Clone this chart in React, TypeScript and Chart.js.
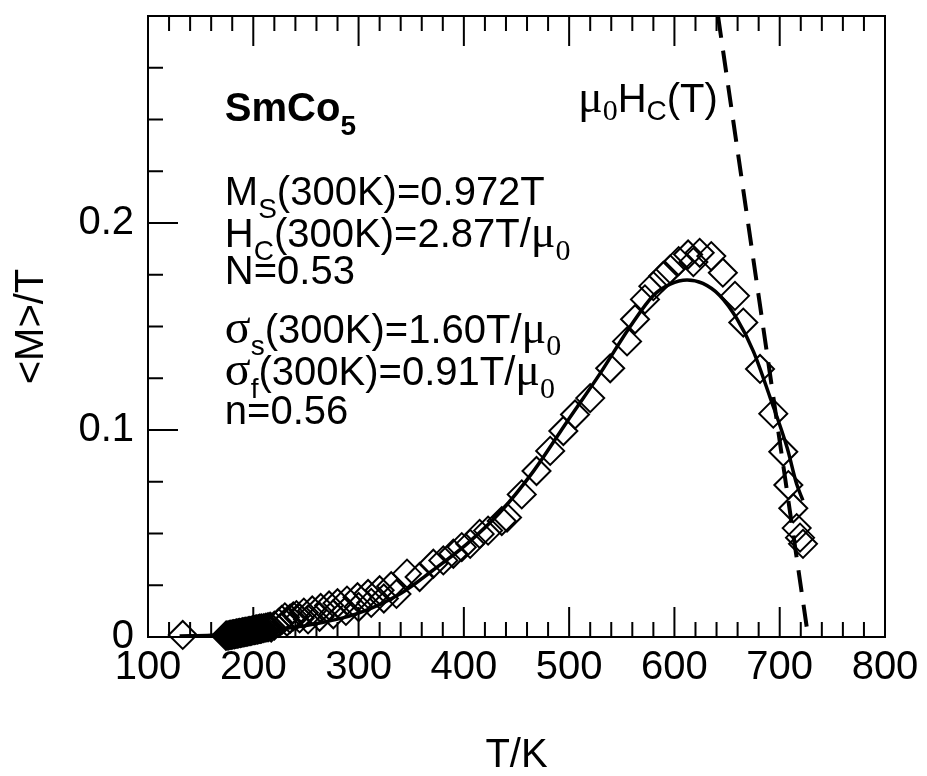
import React, { useEffect, useRef } from 'react';
import { Chart, registerables } from 'chart.js';

Chart.register(...registerables);

// ---- data ----
// measured <M>/T points (diamonds)
const measT = [
  133,
  174, 175, 176, 177, 178, 179, 180, 181, 182, 183, 184, 185, 186, 187, 188, 189, 190, 191, 192, 193,
  194, 195, 196, 197, 198, 199, 200, 201, 202, 203, 204, 205, 206, 207, 208, 210, 212, 214, 216,
  217, 220, 224, 227, 230, 232, 235, 238, 241, 244,
  248, 256, 264, 272, 280, 289, 299, 309, 320, 331,
  252, 263, 276, 288, 300, 312, 324, 336,
  346, 358, 371, 380.5, 390, 398, 406, 415, 423, 436, 441, 455, 469, 482, 494.5, 505.6, 520, 539, 555,
  562.6, 572, 580, 589.4, 596, 604, 613, 618, 624, 635, 646, 657.5, 665.4, 681.3, 693.9, 703.4, 708.2,
  712.9, 716.1, 719.3, 722.1,
];
const measV = [
  0.001,
  0.0006, 0.0008, 0.0007, 0.0009, 0.0011, 0.001, 0.0012, 0.0014, 0.0013, 0.0015, 0.0017, 0.0016, 0.0018,
  0.002, 0.0019, 0.0021, 0.0023, 0.0022, 0.0024, 0.0026,
  0.0025, 0.0027, 0.0029, 0.0028, 0.003, 0.0032, 0.0034, 0.0033, 0.0035, 0.0037, 0.0036, 0.0038, 0.004,
  0.0039, 0.0041, 0.0043, 0.0045, 0.0047, 0.005,
  0.0045, 0.0055, 0.0068, 0.0082, 0.0095, 0.0075, 0.0088, 0.01, 0.0106, 0.009,
  0.0118, 0.0128, 0.014, 0.0152, 0.0163, 0.0176, 0.0192, 0.0208, 0.0226, 0.0245,
  0.0085, 0.0098, 0.011, 0.0126, 0.0145, 0.0165, 0.0186, 0.0208,
  0.0306, 0.029, 0.0354, 0.037, 0.0402, 0.0434, 0.045, 0.0498, 0.0514, 0.056, 0.0577, 0.0689, 0.0802,
  0.0899, 0.0995, 0.1075, 0.1154, 0.1298, 0.1428,
  0.1535, 0.1631, 0.1695, 0.1744, 0.1776, 0.1816, 0.1848, 0.1811, 0.1856, 0.184, 0.176, 0.1648, 0.1519,
  0.1295, 0.1079, 0.0895, 0.0734, 0.0622, 0.0526, 0.048, 0.045,
];

// model fit (solid line)
const fitT = [130, 160, 200, 250, 300, 340, 370, 403, 434, 466, 498, 529, 558, 580, 596, 612, 627, 643, 659, 675, 691, 707, 716, 722];
const fitV = [0.0005, 0.0008, 0.0025, 0.0055, 0.0115, 0.021, 0.032, 0.045, 0.06, 0.08, 0.104, 0.127, 0.15, 0.165, 0.1705, 0.1725, 0.1708, 0.165, 0.154, 0.138, 0.1155, 0.0915, 0.074, 0.066];

// mu0 Hc(T) (dashed line)
const hcT = [641.4, 725.6];
const hcV = [0.3, 0.005];

// axes
const xMajorTicks = [200, 300, 400, 500, 600, 700];
const xMinorTicks = [120, 140, 160, 180, 220, 240, 260, 280, 320, 340, 360, 380, 420, 440, 460, 480, 520, 540, 560, 580, 620, 640, 660, 680, 720, 740, 760, 780];
const yMajorTicks = [0.1, 0.2];
const yMinorTicks = [0.025, 0.05, 0.075, 0.125, 0.15, 0.175, 0.225, 0.25, 0.275];
const yTickLabels: Record<string, string> = { '0': '0', '0.1': '0.1', '0.2': '0.2' };

const SANS = '"Liberation Sans", Arial, Helvetica, sans-serif';
const SERIF = '"Liberation Serif", "Times New Roman", serif';

type Seg = { t: string; sub?: boolean; serif?: boolean; bold?: boolean; size?: number };

const MU: Seg = { t: 'μ', serif: true, size: 46 };
const MU0: Seg = { t: '0', sub: true, serif: true, size: 30 };
const SIGMA: Seg = { t: 'σ', serif: true, size: 48 };

// annotation text blocks, anchored in data coordinates
const annotations: { T: number; v: number; subDy: number; segs: Seg[] }[] = [
  { T: 173, v: 0.2495, subDy: 14, segs: [{ t: 'SmCo', bold: true }, { t: '5', sub: true, bold: true }] },
  { T: 173, v: 0.2087, subDy: 13, segs: [{ t: 'M' }, { t: 'S', sub: true }, { t: '(300K)=0.972T' }] },
  { T: 173, v: 0.1885, subDy: 13, segs: [{ t: 'H' }, { t: 'C', sub: true }, { t: '(300K)=2.87T/' }, MU, MU0] },
  { T: 173, v: 0.1707, subDy: 13, segs: [{ t: 'N=0.53' }] },
  { T: 173, v: 0.1418, subDy: 12, segs: [SIGMA, { t: 's', sub: true }, { t: '(300K)=1.60T/' }, MU, MU0] },
  { T: 173, v: 0.1218, subDy: 13, segs: [SIGMA, { t: 'f', sub: true }, { t: '(300K)=0.91T/' }, MU, MU0] },
  { T: 173, v: 0.1029, subDy: 13, segs: [{ t: 'n=0.56' }] },
  { T: 508.4, v: 0.2534, subDy: 8, segs: [MU, MU0, { t: 'H' }, { t: 'C', sub: true }, { t: '(T)' }] },
];

function drawRich(ctx: CanvasRenderingContext2D, x: number, y: number, segs: Seg[], subDy: number) {
  let cx = x;
  for (const s of segs) {
    const size = s.size ?? (s.sub ? 28 : 40);
    const fam = s.serif ? SERIF : SANS;
    ctx.font = `${s.bold ? 'bold ' : ''}${size}px ${fam}`;
    ctx.fillText(s.t, cx, s.sub ? y + subDy : y);
    cx += ctx.measureText(s.t).width;
  }
}

const decorPlugin = {
  id: 'decor',
  afterDatasetsDraw(chart: any) {
    const { ctx, chartArea: a, scales } = chart;
    const xs = scales.x;
    const ys = scales.y;
    ctx.save();
    ctx.strokeStyle = '#000';
    ctx.lineWidth = 2;
    ctx.beginPath();
    ctx.rect(a.left, a.top, a.right - a.left, a.bottom - a.top);
    ctx.stroke();
    ctx.beginPath();
    const xt = (vals: number[], len: number) => {
      for (const v of vals) {
        const px = xs.getPixelForValue(v);
        ctx.moveTo(px, a.bottom);
        ctx.lineTo(px, a.bottom - len);
        ctx.moveTo(px, a.top);
        ctx.lineTo(px, a.top + len);
      }
    };
    const yt = (vals: number[], len: number) => {
      for (const v of vals) {
        const py = ys.getPixelForValue(v);
        ctx.moveTo(a.left, py);
        ctx.lineTo(a.left + len, py);
      }
    };
    xt(xMajorTicks, 30);
    xt(xMinorTicks, 15);
    yt(yMajorTicks, 30);
    yt(yMinorTicks, 15);
    ctx.stroke();

    ctx.fillStyle = '#000';
    ctx.textBaseline = 'alphabetic';
    ctx.textAlign = 'left';
    for (const an of annotations) {
      drawRich(ctx, xs.getPixelForValue(an.T), ys.getPixelForValue(an.v), an.segs, an.subDy);
    }
    ctx.restore();
  },
};

export default function App() {
  const ref = useRef<HTMLCanvasElement | null>(null);
  useEffect(() => {
    if (!ref.current) return;
    Chart.defaults.font.family = SANS;
    Chart.defaults.color = '#000';
    const chart = new Chart(ref.current, {
      type: 'scatter',
      data: {
        datasets: [
          {
            label: 'fit',
            data: fitT.map((t, i) => ({ x: t, y: fitV[i] })),
            showLine: true,
            borderColor: '#000',
            borderWidth: 3.5,
            pointRadius: 0,
            cubicInterpolationMode: 'monotone',
            order: 0,
          },
          {
            label: 'mu0Hc',
            data: hcT.map((t, i) => ({ x: t, y: hcV[i] })),
            showLine: true,
            borderColor: '#000',
            borderWidth: 4,
            borderDash: [22, 13],
            pointRadius: 0,
            clip: 0,
            order: 1,
          },
          {
            label: 'data',
            data: measT.map((t, i) => ({ x: t, y: measV[i] })),
            showLine: false,
            pointStyle: 'rectRot',
            pointRadius: 14,
            pointBorderWidth: 2,
            borderColor: '#000',
            backgroundColor: 'rgba(0,0,0,0)',
            pointBackgroundColor: 'rgba(0,0,0,0)',
            pointBorderColor: '#000',
            clip: false,
            order: 2,
          },
        ],
      } as any,
      options: {
        animation: false,
        responsive: false,
        events: [],
        layout: { padding: { left: 0, right: 42, top: 12, bottom: 0 } },
        plugins: { legend: { display: false }, tooltip: { enabled: false } },
        scales: {
          x: {
            type: 'linear',
            min: 100,
            max: 800,
            grid: { display: false, drawTicks: false },
            border: { display: false },
            ticks: { stepSize: 100, autoSkip: false, maxRotation: 0, padding: 7, color: '#000', font: { size: 40, family: SANS } },
            title: { display: true, text: 'T/K', color: '#000', font: { size: 40, family: SANS, lineHeight: 1 }, padding: { top: 0, bottom: 0 } },
            afterFit: (s: any) => { s.height = 139; s.paddingLeft = 0; s.paddingRight = 0; },
          },
          y: {
            type: 'linear',
            min: 0,
            max: 0.3,
            grid: { display: false, drawTicks: false },
            border: { display: false },
            ticks: {
              stepSize: 0.1,
              padding: 14,
              color: '#000',
              font: { size: 40, family: SANS },
              callback: (v: any) => {
                const k = String(Math.round(Number(v) * 10) / 10);
                return k in yTickLabels ? yTickLabels[k] : null;
              },
            },
            title: { display: true, text: '<M>/T', color: '#000', font: { size: 40, family: SANS, lineHeight: 1 }, padding: { top: 12, bottom: 0 } },
            afterFit: (s: any) => { s.width = 148; s.paddingTop = 0; s.paddingBottom = 0; },
          },
        },
      } as any,
      plugins: [decorPlugin],
    });
    return () => chart.destroy();
  }, []);
  return (
    <div style={{ position: 'absolute', left: 0, top: 0, width: 927, height: 776, background: '#fff' }}>
      <canvas ref={ref} width={927} height={776} style={{ display: 'block' }} />
    </div>
  );
}
